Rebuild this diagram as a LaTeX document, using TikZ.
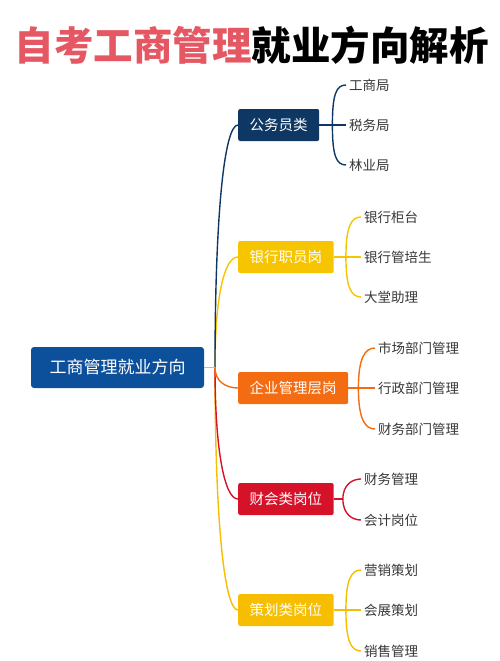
\documentclass[tikz,border=0pt]{standalone}
\usepackage{fontspec}
\setmainfont{Noto Sans CJK SC}
\usepackage{xcolor}

\definecolor{titlered}{RGB}{229,87,98}
\definecolor{rootblue}{RGB}{12,80,155}
\definecolor{navy}{RGB}{14,55,100}
\definecolor{bankyellow}{RGB}{247,196,0}
\definecolor{bizorange}{RGB}{243,108,18}
\definecolor{accred}{RGB}{214,18,40}
\definecolor{planyellow}{RGB}{247,190,0}
\definecolor{leafgray}{RGB}{55,55,55}

\tikzset{
  rootbox/.style={rounded corners=3, fill=rootblue, text=white,
    font=\fontsize{17}{17}\selectfont, minimum width=173, minimum height=41},
  catbox/.style={rounded corners=2, text=white, anchor=west,
    font=\fontsize{14.5}{14.5}\selectfont, minimum height=32, inner xsep=11.5},
  leaf/.style={text=leafgray, anchor=west, inner sep=3,
    font=\fontsize{13.5}{13.5}\selectfont},
  link/.style={line width=1.4},
  brace/.style={line width=1.4},
}

\begin{document}
\begin{tikzpicture}[x=1pt,y=-1pt]
\useasboundingbox (0,0) rectangle (500,661);

% title
\node (title) at (251.5,45) {\fontsize{39.5}{40}\selectfont\bfseries\textcolor{titlered}{自考工商管理}就业方向解析};

% root and trunk
\node[rootbox] (root) at (117.5,367.5) {工商管理就业方向};
\coordinate (trunk) at (215,367.5);

% categories
\node[catbox, fill=navy] (gwy) at (238,125) {公务员类};
\node[catbox, fill=bankyellow] (yh) at (238,257) {银行职员岗};
\node[catbox, fill=bizorange] (qy) at (238,388) {企业管理层岗};
\node[catbox, fill=accred] (ck) at (238,499) {财会类岗位};
\node[catbox, fill=planyellow] (ch) at (238,610) {策划类岗位};

\draw[link, planyellow] (trunk) .. controls +(0,150) and +(-14,0) .. (ch.west);
\draw[link, accred] (trunk) .. controls +(0,80) and +(-14,0) .. (ck.west);
\draw[link, bankyellow] (trunk) .. controls +(0,-70) and +(-14,0) .. (yh.west);
\draw[link, navy] (trunk) .. controls +(0,-150) and +(-14,0) .. (gwy.west);
\draw[link, bizorange] (trunk) .. controls +(0,14) and +(-12,0) .. (qy.west);
\draw[link, bankyellow] (root.east) -- (trunk);

% leaves
\node[leaf] (gsj) at (346,85) {工商局};
\node[leaf] (swj) at (346,125) {税务局};
\node[leaf] (lyj) at (346,165) {林业局};

\node[leaf] (yhgt) at (361,217) {银行柜台};
\node[leaf] (yhgp) at (361,257) {银行管培生};
\node[leaf] (dtzl) at (361,297) {大堂助理};

\node[leaf] (scbm) at (375,348) {市场部门管理};
\node[leaf] (xzbm) at (375,388) {行政部门管理};
\node[leaf] (cwbm) at (375,429) {财务部门管理};

\node[leaf] (cwgl) at (361,479) {财务管理};
\node[leaf] (kjgw) at (361,520) {会计岗位};

\node[leaf] (yxch) at (361,570) {营销策划};
\node[leaf] (zhch) at (361,610) {会展策划};
\node[leaf] (xsgl) at (361,651) {销售管理};

% braces
\path (gwy.east) ++(13,0) coordinate (gwyb);
\path (yh.east) ++(12,0) coordinate (yhb);
\path (qy.east) ++(10,0) coordinate (qyb);
\path (ck.east) ++(9,0) coordinate (ckb);
\path (ch.east) ++(12,0) coordinate (chb);

\draw[brace, navy] (gwy.east) -- (swj.west);
\foreach \lf/\c in {gsj/-30,lyj/30}{
  \draw[brace, navy] (gwyb) .. controls +(0,\c) and +(-10,0) .. (\lf.west);
}
\draw[brace, bankyellow] (yh.east) -- (yhgp.west);
\foreach \lf/\c in {yhgt/-30,dtzl/30}{
  \draw[brace, bankyellow] (yhb) .. controls +(0,\c) and +(-10,0) .. (\lf.west);
}
\draw[brace, bizorange] (qy.east) -- (xzbm.west);
\foreach \lf/\c in {scbm/-30,cwbm/31}{
  \draw[brace, bizorange] (qyb) .. controls +(0,\c) and +(-10,0) .. (\lf.west);
}
\draw[brace, accred] (ck.east) -- (ckb);
\foreach \lf/\c in {cwgl/-15,kjgw/16}{
  \draw[brace, accred] (ckb) .. controls +(0,\c) and +(-8,0) .. (\lf.west);
}
\draw[brace, planyellow] (ch.east) -- (zhch.west);
\foreach \lf/\c in {yxch/-30,xsgl/31}{
  \draw[brace, planyellow] (chb) .. controls +(0,\c) and +(-10,0) .. (\lf.west);
}

\end{tikzpicture}
\end{document}
